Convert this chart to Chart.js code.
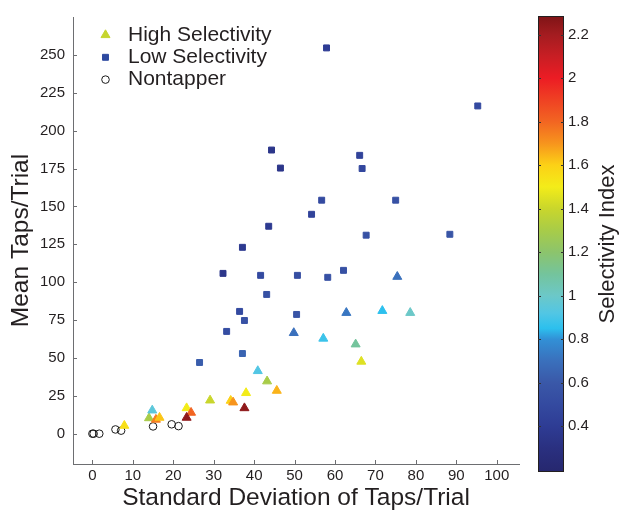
<!DOCTYPE html>
<html>
<head>
<meta charset="utf-8">
<script src="https://cdn.jsdelivr.net/npm/chart.js@4/dist/chart.umd.min.js"></script>
<style>
  body { margin: 0; background: #fff; }
  #wrap { position: relative; width: 619px; height: 510px; }
  #mainChart { position: absolute; left: 0; top: 0; }
  #barChart { position: absolute; left: 530px; top: 0; }
</style>
</head>
<body>
<div id="wrap">
  <canvas id="mainChart" width="530" height="510"></canvas>
  <canvas id="barChart" width="89" height="510"></canvas>
</div>
<script>
// High selectivity (triangles)
const highX  = [7.9, 14.0, 14.8, 15.7, 16.6, 23.3, 24.4, 23.3, 29.1, 34.2, 34.8, 38.0, 37.6, 40.9, 43.2, 45.6, 49.8, 57.1, 65.1, 66.5, 62.8, 71.7, 75.4, 78.6];
const highY  = [5.3, 10.3, 15.4, 9.3, 10.6, 16.9, 13.9, 10.6, 22.0, 21.8, 20.7, 26.9, 16.9, 41.4, 34.6, 28.4, 66.5, 62.8, 59.0, 47.6, 79.8, 81.1, 103.6, 79.8];
const highSI = [1.55, 1.3, 0.95, 1.75, 1.62, 1.5, 1.8, 2.25, 1.4, 1.6, 1.7, 1.5, 2.25, 0.92, 1.3, 1.65, 0.7, 0.88, 1.1, 1.45, 0.72, 0.85, 0.7, 1.0];

// Low selectivity (squares)
const lowX  = [57.9, 95.3, 44.3, 66.1, 46.5, 66.7, 56.7, 75.0, 54.2, 43.6, 67.7, 88.4, 37.1, 32.3, 41.6, 50.7, 58.2, 62.1, 43.1, 36.4, 37.6, 50.5, 33.2, 37.1, 26.5];
const lowY  = [254.6, 216.3, 187.2, 183.7, 175.3, 175.0, 154.1, 154.1, 144.8, 136.9, 131.0, 131.6, 123.0, 105.8, 104.5, 104.5, 103.2, 107.8, 91.9, 80.7, 74.7, 78.7, 67.5, 52.9, 47.0];
const lowSI = [0.4, 0.5, 0.35, 0.45, 0.35, 0.48, 0.5, 0.55, 0.45, 0.38, 0.55, 0.58, 0.38, 0.35, 0.5, 0.53, 0.55, 0.55, 0.55, 0.5, 0.56, 0.58, 0.52, 0.65, 0.62];

// Nontappers (open circles)
const ntX = [0.0, 0.3, 1.7, 5.7, 7.1, 15.0, 19.6, 21.3];
const ntY = [0.0, 0.0, 0.0, 2.8, 2.0, 4.8, 6.2, 5.0];

const xTicks = [0, 10, 20, 30, 40, 50, 60, 70, 80, 90, 100];
const yTicks = [0, 25, 50, 75, 100, 125, 150, 175, 200, 225, 250];
const siTicks = [0.4, 0.6, 0.8, 1, 1.2, 1.4, 1.6, 1.8, 2, 2.2];
const siMin = 0.19, siMax = 2.285;

// colour map (selectivity index -> colour)
const cmapV = [0.19, 0.3, 0.4, 0.5, 0.6, 0.7, 0.8, 0.85, 0.92, 1.0, 1.1, 1.2, 1.3, 1.4, 1.5, 1.6, 1.7, 1.8, 1.9, 2.0, 2.1, 2.2, 2.29];
const cmapC = ['#26276e', '#2a3080', '#2e3c94', '#344aa0', '#3a58a8', '#3a70bc', '#3290d6', '#2cc0ee', '#52c6e4', '#6cc8c8', '#74c49c', '#8cc46c', '#a8cc48', '#c9d62c', '#f3ec19', '#fcd116', '#f7941d', '#f26522', '#ef4123', '#ec1c24', '#c81e24', '#a31c20', '#7f1416'];

const FONT = '"Liberation Sans", Arial, Helvetica, sans-serif';
const TEXT = '#231f20';
const AXIS = '#6d6e71';

function hexToRgb(h) {
    return [parseInt(h.slice(1, 3), 16), parseInt(h.slice(3, 5), 16), parseInt(h.slice(5, 7), 16)];
}

function siColor(v) {
    if (v <= cmapV[0]) return cmapC[0];
    for (let i = 1; i < cmapV.length; i++) {
        if (v <= cmapV[i]) {
            const t = (v - cmapV[i - 1]) / (cmapV[i] - cmapV[i - 1]);
            const a = hexToRgb(cmapC[i - 1]), b = hexToRgb(cmapC[i]);
            const c = a.map((x, k) => Math.round(x + (b[k] - x) * t));
            return 'rgb(' + c.join(',') + ')';
        }
    }
    return cmapC[cmapC.length - 1];
}

const toPts = (xs, ys) => xs.map((x, i) => ({x: x, y: ys[i]}));

// inward tick marks, like the original
const innerTicks = {
    id: 'innerTicks',
    afterDraw(chart) {
        const {ctx, chartArea} = chart;
        const xs = chart.scales.x, ys = chart.scales.y;
        ctx.save();
        ctx.strokeStyle = AXIS;
        ctx.lineWidth = 1;
        ctx.beginPath();
        xTicks.forEach(v => {
            const px = Math.round(xs.getPixelForValue(v)) + 0.5;
            ctx.moveTo(px, chartArea.bottom);
            ctx.lineTo(px, chartArea.bottom - 4);
        });
        yTicks.forEach(v => {
            const py = Math.round(ys.getPixelForValue(v)) + 0.5;
            ctx.moveTo(chartArea.left, py);
            ctx.lineTo(chartArea.left + 4, py);
        });
        ctx.stroke();
        ctx.restore();
    }
};

// legend drawn inside the plot, top left
const innerLegend = {
    id: 'innerLegend',
    afterDraw(chart) {
        const ctx = chart.ctx;
        const rows = [35, 57.3, 79.6];
        const mx = 105.5, tx = 128;
        ctx.save();
        chart.data.datasets.forEach(ds => {
            const y = rows[ds.legendRow];
            ctx.fillStyle = ds.legendColor;
            ctx.strokeStyle = ds.legendBorder;
            ctx.lineWidth = 1;
            Chart.helpers.drawPoint(ctx, {
                pointStyle: ds.pointStyle,
                radius: ds.legendRadius,
                borderWidth: 1
            }, mx, y);
            ctx.fillStyle = TEXT;
            ctx.font = '21px ' + FONT;
            ctx.textBaseline = 'middle';
            ctx.textAlign = 'left';
            ctx.fillText(ds.label, tx, y);
        });
        ctx.restore();
    }
};

const mainChart = new Chart(document.getElementById('mainChart'), {
    type: 'scatter',
    data: {
        datasets: [
            {
                label: 'Low Selectivity',
                data: toPts(lowX, lowY),
                pointStyle: 'rect',
                pointRadius: 4.2,
                borderWidth: 1,
                backgroundColor: lowSI.map(siColor),
                borderColor: lowSI.map(siColor),
                legendRow: 1, legendRadius: 4.2,
                legendColor: '#2e4aa0', legendBorder: '#2e4aa0'
            },
            {
                label: 'High Selectivity',
                data: toPts(highX, highY),
                pointStyle: 'triangle',
                pointRadius: 5.2,
                borderWidth: 1,
                backgroundColor: highSI.map(siColor),
                borderColor: highSI.map(siColor),
                legendRow: 0, legendRadius: 5.2,
                legendColor: '#c6d52e', legendBorder: '#c6d52e'
            },
            {
                label: 'Nontapper',
                data: toPts(ntX, ntY),
                pointStyle: 'circle',
                pointRadius: 3.8,
                borderWidth: 1,
                backgroundColor: 'rgba(0,0,0,0)',
                borderColor: '#1a1a1a',
                legendRow: 2, legendRadius: 3.8,
                legendColor: 'rgba(0,0,0,0)', legendBorder: '#1a1a1a'
            }
        ]
    },
    options: {
        responsive: false,
        animation: false,
        events: [],
        layout: { padding: { left: 0, right: 11, top: 17, bottom: 0 } },
        plugins: { legend: { display: false }, tooltip: { enabled: false } },
        scales: {
            x: {
                type: 'linear',
                min: -4.8,
                max: 105.5,
                afterBuildTicks: s => { s.ticks = xTicks.map(v => ({value: v})); },
                afterFit: s => { s.height = 46; },
                grid: { drawOnChartArea: false, drawTicks: false },
                border: { display: true, color: AXIS, width: 1 },
                ticks: { font: { family: FONT, size: 15 }, color: TEXT, padding: 3, maxRotation: 0 },
                title: {
                    display: true,
                    text: 'Standard Deviation of Taps/Trial',
                    font: { family: FONT, size: 24.5, lineHeight: 1 },
                    color: TEXT,
                    padding: { top: 0, bottom: 0 }
                }
            },
            y: {
                type: 'linear',
                min: -20,
                max: 275,
                afterBuildTicks: s => { s.ticks = yTicks.map(v => ({value: v})); },
                afterFit: s => { s.width = 73; },
                grid: { drawOnChartArea: false, drawTicks: false },
                border: { display: true, color: AXIS, width: 1 },
                ticks: { font: { family: FONT, size: 15 }, color: TEXT, padding: 8 },
                title: {
                    display: true,
                    text: 'Mean Taps/Trial',
                    font: { family: FONT, size: 24.5, lineHeight: 1 },
                    color: TEXT,
                    padding: { top: 9, bottom: 0 }
                }
            }
        }
    },
    plugins: [innerTicks, innerLegend]
});

// colour bar: gradient painted along its own linear scale
const colorBar = {
    id: 'colorBar',
    beforeDatasetsDraw(chart) {
        const {ctx, chartArea} = chart;
        const s = chart.scales.y;
        const top = chartArea.top, bottom = chartArea.bottom;
        const grad = ctx.createLinearGradient(0, bottom, 0, top);
        cmapV.forEach((v, i) => {
            const t = (bottom - s.getPixelForValue(v)) / (bottom - top);
            grad.addColorStop(Math.min(1, Math.max(0, t)), cmapC[i]);
        });
        ctx.save();
        ctx.fillStyle = grad;
        ctx.fillRect(chartArea.left, top, chartArea.right - chartArea.left, bottom - top);
        ctx.strokeStyle = TEXT;
        ctx.lineWidth = 1;
        ctx.strokeRect(chartArea.left + 0.5, top + 0.5, chartArea.right - chartArea.left - 1, bottom - top - 1);
        ctx.strokeStyle = '#333';
        ctx.beginPath();
        siTicks.forEach(v => {
            const py = Math.round(s.getPixelForValue(v)) + 0.5;
            ctx.moveTo(chartArea.left, py);
            ctx.lineTo(chartArea.left + 3, py);
            ctx.moveTo(chartArea.right, py);
            ctx.lineTo(chartArea.right - 3, py);
        });
        ctx.stroke();
        // title, reading bottom to top
        ctx.fillStyle = TEXT;
        ctx.font = '22px ' + FONT;
        ctx.textAlign = 'center';
        ctx.textBaseline = 'middle';
        ctx.translate(78, (top + bottom) / 2);
        ctx.rotate(-Math.PI / 2);
        ctx.fillText('Selectivity Index', 0, 0);
        ctx.restore();
    }
};

const barChart = new Chart(document.getElementById('barChart'), {
    type: 'scatter',
    data: { datasets: [] },
    options: {
        responsive: false,
        animation: false,
        events: [],
        layout: { padding: { left: 8, right: 0, top: 16, bottom: 38 } },
        plugins: { legend: { display: false }, tooltip: { enabled: false } },
        scales: {
            x: { display: false, min: 0, max: 1 },
            y: {
                type: 'linear',
                position: 'right',
                min: siMin,
                max: siMax,
                afterBuildTicks: s => { s.ticks = siTicks.map(v => ({value: v})); },
                afterFit: s => { s.width = 55; },
                grid: { display: false, drawTicks: false },
                border: { display: false },
                ticks: {
                    font: { family: FONT, size: 15 },
                    color: TEXT,
                    padding: 4,
                    callback: v => String(+v.toFixed(1))
                }
            }
        }
    },
    plugins: [colorBar]
});
</script>
</body>
</html>
